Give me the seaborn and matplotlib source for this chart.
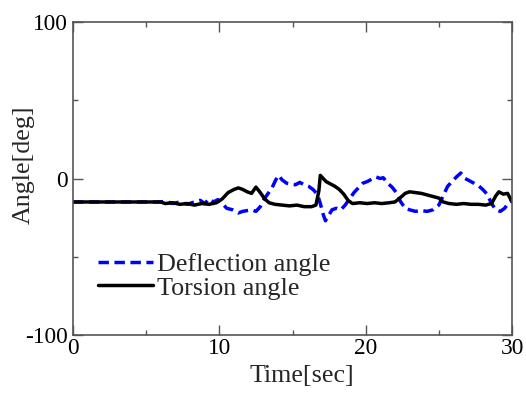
import matplotlib
matplotlib.use("Agg")
import matplotlib.pyplot as plt
import seaborn as sns
import pandas as pd
from matplotlib.ticker import MultipleLocator

# ---- data ----
torsion_t = [0, 6.0, 6.3, 6.8, 7.3, 7.8, 8.3, 8.8, 9.3, 9.8, 10.2, 10.6, 11.0, 11.3,
             11.6, 11.9, 12.2, 12.5, 12.8, 13.1, 13.4, 13.8, 14.3, 14.8, 15.3, 15.8,
             16.3, 16.6, 16.8, 16.9, 17.1, 17.3, 17.6, 17.9, 18.2, 18.5, 18.8, 19.1,
             19.6, 20.1, 20.6, 21.1, 21.6, 22.0, 22.4, 22.7, 23.0, 23.4, 23.8, 24.2,
             24.6, 25.0, 25.3, 25.7, 26.2, 26.7, 27.2, 27.7, 28.2, 28.6, 28.9, 29.1,
             29.4, 29.7, 30.0]
torsion_v = [-15, -15, -16, -15.5, -16.5, -16, -17, -16, -16.5, -15.5, -13, -9, -7, -6,
             -7, -8.5, -9.5, -5.5, -9, -13, -15.5, -16.5, -17, -17.5, -17, -18,
             -18, -17, -8, 2, 0, -2, -3.5, -5, -7, -10, -14, -16,
             -15.5, -16, -15.5, -16, -15.5, -15, -12, -9.5, -8.5, -9, -9.5, -10.5,
             -11.5, -12.5, -15, -16, -16.5, -16, -16.5, -16.5, -17, -16, -11, -8.5,
             -10, -9.5, -15]

deflection_t = [0, 6.0, 6.3, 6.8, 7.3, 7.8, 8.3, 8.7, 9.0, 9.3, 9.6, 9.9, 10.2, 10.5,
                10.9, 11.3, 11.6, 11.9, 12.2, 12.5, 12.8, 13.0, 13.3, 13.6, 13.85, 14.05,
                14.3, 14.6, 14.9, 15.2, 15.5, 15.8, 16.1, 16.4, 16.7, 16.9, 17.1, 17.25,
                17.45, 17.7, 18.0, 18.3, 18.6, 18.9, 19.2, 19.5, 19.8, 20.1, 20.4, 20.7,
                21.0, 21.2, 21.5, 21.8, 22.1, 22.4, 22.7, 23.0, 23.4, 23.8, 24.2, 24.6,
                25.0, 25.3, 25.6, 25.9, 26.2, 26.5, 26.8, 27.1, 27.4, 27.7, 28.0, 28.3,
                28.6, 28.9, 29.2, 29.5, 29.8, 30.0]
deflection_v = [-15, -15, -14.5, -16, -15, -16.5, -15, -14, -16, -13, -15, -13.5, -16, -19,
                -20, -22, -21, -20.5, -20, -21, -18, -14, -10, -6, -1, 2,
                -1, -3, -3.5, -4, -2.5, -4, -5, -7, -10, -16, -23, -27,
                -24, -20, -19, -20, -17, -13, -9, -6, -3, -2, -0.5, 1,
                0, 0.5, -3, -5.5, -9, -15, -19, -20, -21, -20.5, -21, -20,
                -17, -11, -5, -2, 1, 3.5, 0, -1.5, -3, -4.5, -7, -10,
                -16, -20, -21, -19, -15, -14]

series_names = ["Deflection angle", "Torsion angle"]
x_ticks = [0, 10, 20, 30]
y_ticks = [-100, 0, 100]

df = pd.concat([
    pd.DataFrame({"Time": deflection_t, "Angle": deflection_v, "Series": series_names[0]}),
    pd.DataFrame({"Time": torsion_t, "Angle": torsion_v, "Series": series_names[1]}),
], ignore_index=True)

sns.set_style("ticks")
plt.rcParams["font.family"] = ["Liberation Serif", "DejaVu Serif"]
plt.rcParams["axes.unicode_minus"] = False

fig = plt.figure(figsize=(5.26, 3.94), dpi=100)
ax = fig.add_axes([73 / 526, 1 - 335 / 394, (512 - 73) / 526, (335 - 22) / 394])

sns.lineplot(data=df, x="Time", y="Angle", hue="Series", style="Series",
             hue_order=series_names, style_order=series_names,
             palette={series_names[0]: "#0000ff", series_names[1]: "#000000"},
             dashes={series_names[0]: (3, 1.6), series_names[1]: ""},
             estimator=None, sort=False, linewidth=2.5, ax=ax)

ax.set_xlim(0, 30)
ax.set_ylim(-100, 100)
ax.set_xticks(x_ticks)
ax.set_yticks(y_ticks)
ax.xaxis.set_minor_locator(MultipleLocator(5))
ax.yaxis.set_minor_locator(MultipleLocator(50))
ax.tick_params(which="both", direction="in", top=True, right=True,
               labelsize=16.8, colors="#555555", labelcolor="black")
ax.tick_params(which="major", length=7, width=1)
ax.tick_params(which="minor", length=3.5, width=1)
ax.tick_params(axis="y", which="major", pad=4)
ax.tick_params(axis="x", which="major", pad=2)
for s in ax.spines.values():
    s.set_color("#555555")
    s.set_linewidth(1.2)

ax.set_xlabel("Time[sec]", fontsize=18.7)
ax.set_ylabel("Angle[deg]", fontsize=18.7)
ax.xaxis.set_label_coords((301.5 - 73) / 439, -(365 - 335) / 313)
ax.yaxis.set_label_coords(-(73 - 35) / 439, (335 - 165) / 313)

leg = ax.legend(loc="upper left", bbox_to_anchor=((98 - 73) / 439, (335 - 253) / 313),
                frameon=False, fontsize=18.8, handlelength=2.1, handletextpad=0.15,
                labelspacing=0.0, borderpad=0, borderaxespad=0)

fig.savefig("out.png", dpi=100)
